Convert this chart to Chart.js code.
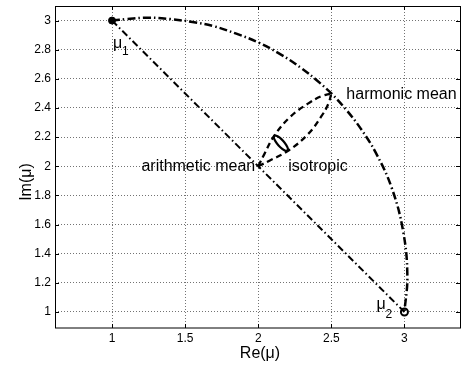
<!DOCTYPE html>
<html>
<head>
<meta charset="utf-8">
<script src="https://cdn.jsdelivr.net/npm/chart.js@4.4.1/dist/chart.umd.min.js"></script>
<style>
  html, body { margin: 0; padding: 0; background: #fff; overflow: hidden; }
  /* the plot box runs a little past the right edge of the picture */
  #wrap { width: 466px; height: 367px; }
</style>
</head>
<body>
<div id="wrap"><canvas id="chart"></canvas></div>
<script>
// axis ticks
const xTicks = [1, 1.5, 2, 2.5, 3];
const xTickLabels = ['1', '1.5', '2', '2.5', '3'];
const yTicks = [1, 1.2, 1.4, 1.6, 1.8, 2, 2.2, 2.4, 2.6, 2.8, 3];
const yTickLabels = ['1', '1.2', '1.4', '1.6', '1.8', '2', '2.2', '2.4', '2.6', '2.8', '3'];

// end points
const mu1X = [1], mu1Y = [3];
const mu2X = [3], mu2Y = [1];

// straight line mu1 -> arithmetic mean -> mu2
const chordX = [1, 2, 3];
const chordY = [3, 2, 1];

// big arc through the harmonic mean
const arcX = [1.00, 1.10, 1.25, 1.40, 1.55, 1.70, 1.85, 2.00, 2.15, 2.30, 2.40, 2.50, 2.60, 2.70, 2.80, 2.91, 2.99, 3.02, 3.00];
const arcY = [3.00, 3.01, 3.02, 3.01, 2.99, 2.96, 2.91, 2.85, 2.77, 2.67, 2.59, 2.50, 2.39, 2.26, 2.10, 1.86, 1.56, 1.25, 1.00];

// dashed curves between arithmetic and harmonic mean
const upperX = [2.00, 2.04, 2.11, 2.22, 2.34, 2.43, 2.50];
const upperY = [2.00, 2.08, 2.21, 2.34, 2.43, 2.48, 2.50];
const lowerX = [2.00, 2.08, 2.21, 2.34, 2.43, 2.48, 2.50];
const lowerY = [2.00, 2.04, 2.11, 2.22, 2.34, 2.43, 2.50];

// small "isotropic" ellipse
const isoX = [2.200, 2.203, 2.192, 2.171, 2.147, 2.124, 2.110, 2.107, 2.118, 2.139, 2.164, 2.186, 2.200];
const isoY = [2.107, 2.121, 2.145, 2.173, 2.196, 2.209, 2.209, 2.195, 2.171, 2.143, 2.120, 2.107, 2.107];

const pts = (xs, ys) => xs.map((v, i) => ({ x: v, y: ys[i] }));

Chart.defaults.font.family = '"Liberation Sans", Arial, sans-serif';
Chart.defaults.font.size = 12;
Chart.defaults.color = '#000';

const frame = {
  id: 'frame',
  afterDraw(chart) {
    const { ctx, chartArea: a, scales: { x, y } } = chart;
    ctx.save();
    ctx.strokeStyle = '#000';
    ctx.lineWidth = 1;
    ctx.setLineDash([]);
    ctx.strokeRect(a.left + 0.5, a.top + 0.5, a.right - a.left, a.bottom - a.top - 0.5);
    ctx.beginPath();
    xTicks.forEach(v => {
      const px = Math.round(x.getPixelForValue(v)) + 0.5;
      ctx.moveTo(px, a.bottom); ctx.lineTo(px, a.bottom - 4);
      ctx.moveTo(px, a.top); ctx.lineTo(px, a.top + 4);
    });
    yTicks.forEach(v => {
      const py = Math.round(y.getPixelForValue(v)) + 0.5;
      ctx.moveTo(a.left, py); ctx.lineTo(a.left + 4, py);
      ctx.moveTo(a.right, py); ctx.lineTo(a.right - 4, py);
    });
    ctx.stroke();

    // text labels, anchored on data points
    const big = '16px "Liberation Sans", Arial, sans-serif';
    const small = '12px "Liberation Sans", Arial, sans-serif';
    const put = (txt, vx, vy, dx, dy, font, align) => {
      ctx.font = font;
      ctx.textAlign = align || 'left';
      ctx.textBaseline = 'alphabetic';
      ctx.fillStyle = '#000';
      ctx.fillText(txt, x.getPixelForValue(vx) + dx, y.getPixelForValue(vy) + dy);
    };
    put('\u03bc', 1, 3, 1, 27, big);
    put('1', 1, 3, 10, 34, small);
    put('\u03bc', 3, 1, -28, -3, big);
    put('2', 3, 1, -19, 6, small);
    put('harmonic mean', 2.5, 2.5, 15, 6, big);
    put('isotropic', 2, 2, 30, 5, big);
    put('arithmetic mean', 2, 2, -3, 5, big, 'right');

    // axis titles
    ctx.font = big;
    ctx.textAlign = 'center';
    ctx.textBaseline = 'middle';
    ctx.fillText('Re(\u03bc)', 260, 354);
    ctx.translate(27, 182);
    ctx.rotate(-Math.PI / 2);
    ctx.fillText('Im(\u03bc)', 0, 0);
    ctx.restore();
  }
};

new Chart(document.getElementById('chart'), {
  type: 'scatter',
  data: {
    datasets: [
      {
        label: 'chord',
        data: pts(chordX, chordY),
        showLine: true, pointRadius: 0,
        borderColor: '#000', borderWidth: 2,
        borderDash: [7, 3, 1.5, 3]
      },
      {
        label: 'arc',
        data: pts(arcX, arcY),
        showLine: true, pointRadius: 0, tension: 0.4,
        borderColor: '#000', borderWidth: 2.5,
        borderDash: [8, 3, 1.5, 3]
      },
      {
        label: 'upper',
        data: pts(upperX, upperY),
        showLine: true, pointRadius: 0, tension: 0.4,
        borderColor: '#000', borderWidth: 2.3,
        borderDash: [6, 4]
      },
      {
        label: 'lower',
        data: pts(lowerX, lowerY),
        showLine: true, pointRadius: 0, tension: 0.4,
        borderColor: '#000', borderWidth: 2.3,
        borderDash: [6, 4]
      },
      {
        label: 'isotropic',
        data: pts(isoX, isoY),
        showLine: true, pointRadius: 0, tension: 0.4,
        borderColor: '#000', borderWidth: 2.2
      },
      {
        label: 'mu1',
        data: pts(mu1X, mu1Y),
        pointRadius: 3.5, pointBackgroundColor: '#000', pointBorderColor: '#000'
      },
      {
        label: 'mu2',
        data: pts(mu2X, mu2Y),
        pointRadius: 3.5, pointBackgroundColor: '#fff', pointBorderColor: '#000', pointBorderWidth: 2
      }
    ]
  },
  options: {
    responsive: true,
    maintainAspectRatio: false,
    animation: false,
    layout: { padding: { top: 3, right: 0, left: 0, bottom: 0 } },
    plugins: { legend: { display: false }, tooltip: { enabled: false } },
    scales: {
      x: {
        type: 'linear', min: 0.61, max: 3.38,
        afterBuildTicks: s => { s.ticks = xTicks.map(v => ({ value: v })); },
        afterFit: s => { s.height = 39; s.paddingLeft = 0; s.paddingRight = 0; },
        ticks: { padding: 3, callback: (v) => xTickLabels[xTicks.indexOf(v)] },
        grid: { color: 'rgba(0,0,0,0.55)', lineWidth: 1, drawTicks: false },
        border: { display: false, dash: [1, 2] }
      },
      y: {
        type: 'linear', min: 0.89, max: 3.1,
        afterBuildTicks: s => { s.ticks = yTicks.map(v => ({ value: v })); },
        afterFit: s => { s.width = 55; s.paddingTop = 0; s.paddingBottom = 0; },
        ticks: { padding: 4, callback: (v) => yTickLabels[yTicks.indexOf(v)] },
        grid: { color: 'rgba(0,0,0,0.55)', lineWidth: 1, drawTicks: false },
        border: { display: false, dash: [1, 2] }
      }
    }
  },
  plugins: [frame]
});
</script>
</body>
</html>
